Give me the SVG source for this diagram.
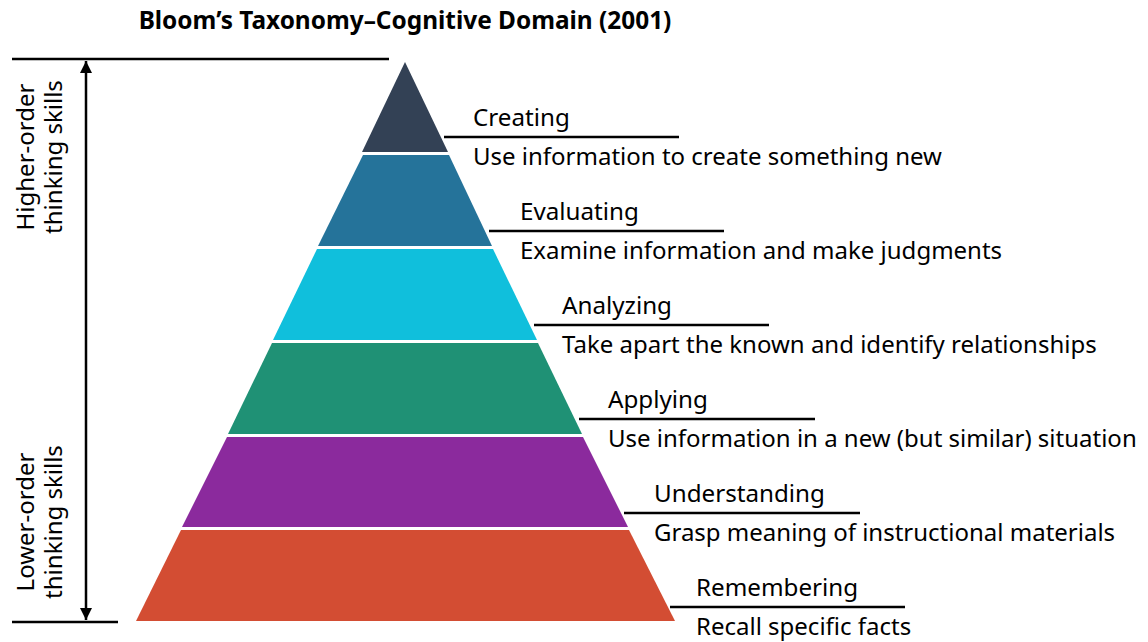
<svg xmlns="http://www.w3.org/2000/svg" width="1148" height="642" viewBox="0 0 1148 642">
<style>
text{font-family:"Noto Sans","Open Sans","DejaVu Sans",sans-serif;fill:#000}
.t{font-size:24.4px;font-weight:bold}
.h{font-size:24.2px}
.d{font-size:24px}
.s{font-size:24px}
.ln{stroke:#000;stroke-width:2.5;fill:none}
</style>
<defs>
<marker id="ah" viewBox="0 0 12 20" refX="12" refY="10" markerWidth="12" markerHeight="20" markerUnits="userSpaceOnUse" orient="auto-start-reverse">
<path d="M0,4 L12,10 L0,16 Z" fill="#000"/>
</marker>
</defs>
<rect width="1148" height="642" fill="#fff"/>
<text class="t" x="405" y="29" text-anchor="middle">Bloom’s Taxonomy–Cognitive Domain (2001)</text>

<g id="scale">
<line class="ln" x1="12" y1="59" x2="389" y2="59"/>
<line class="ln" x1="12" y1="622" x2="118" y2="622"/>
<line class="ln" x1="86" y1="61" x2="86" y2="620" marker-start="url(#ah)" marker-end="url(#ah)"/>
<text class="s" transform="translate(34,157) rotate(-90)" text-anchor="middle">Higher-order</text>
<text class="s" transform="translate(62,157) rotate(-90)" text-anchor="middle">thinking skills</text>
<text class="s" transform="translate(34,522) rotate(-90)" text-anchor="middle">Lower-order</text>
<text class="s" transform="translate(62,522) rotate(-90)" text-anchor="middle">thinking skills</text>
</g>

<g id="creating">
<polygon points="405,62 448,152 362,152" fill="#334155"/>
<line class="ln" x1="444" y1="137" x2="679" y2="137"/>
<text class="h" x="473" y="126">Creating</text>
<text class="d" x="473" y="165">Use information to create something new</text>
</g>
<g id="evaluating">
<polygon points="363,155 449,155 492,246 318,246" fill="#25739A"/>
<line class="ln" x1="489" y1="231" x2="724" y2="231"/>
<text class="h" x="520" y="220">Evaluating</text>
<text class="d" x="520" y="259">Examine information and make judgments</text>
</g>
<g id="analyzing">
<polygon points="317,249 493,249 537,340 273,340" fill="#10BFDC"/>
<line class="ln" x1="534" y1="325" x2="769" y2="325"/>
<text class="h" x="562" y="314">Analyzing</text>
<text class="d" x="562" y="353">Take apart the known and identify relationships</text>
</g>
<g id="applying">
<polygon points="272,343 538,343 582,434 228,434" fill="#1F9175"/>
<line class="ln" x1="579" y1="419" x2="815" y2="419"/>
<text class="h" x="608" y="408">Applying</text>
<text class="d" x="608" y="447">Use information in a new (but similar) situation</text>
</g>
<g id="understanding">
<polygon points="227,437 583,437 628,527 182,527" fill="#8B2A9D"/>
<line class="ln" x1="624" y1="513" x2="860" y2="513"/>
<text class="h" x="654" y="502">Understanding</text>
<text class="d" x="654" y="541">Grasp meaning of instructional materials</text>
</g>
<g id="remembering">
<polygon points="181,530 629,530 675,621 136,621" fill="#D34D33"/>
<line class="ln" x1="670" y1="607" x2="905" y2="607"/>
<text class="h" x="696" y="596">Remembering</text>
<text class="d" x="696" y="635">Recall specific facts</text>
</g>
</svg>
